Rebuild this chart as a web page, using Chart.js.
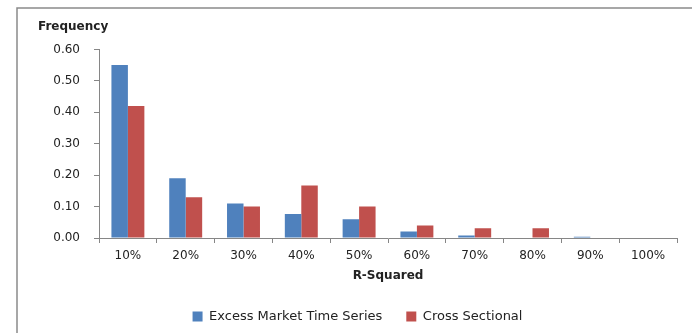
<!DOCTYPE html>
<html>
<head>
<meta charset="utf-8">
<script src="https://cdn.jsdelivr.net/npm/chart.js@4/dist/chart.umd.min.js"></script>
<style>
  html, body { margin: 0; padding: 0; background: #fff; }
  #wrap { width: 692px; height: 333px; position: relative; }
</style>
</head>
<body>
<div id="wrap"><canvas id="c" width="692" height="333"></canvas></div>
<script>
// R-squared buckets and the share of regressions falling in each
const categories = ['10%', '20%', '30%', '40%', '50%', '60%', '70%', '80%', '90%', '100%'];
const timeSeries = [0.55, 0.19, 0.11, 0.076, 0.06, 0.021, 0.008, 0.0, 0.004, 0.0];
const crossSectional = [0.42, 0.13, 0.10, 0.167, 0.10, 0.04, 0.031, 0.031, 0.0, 0.0];
const seriesNames = ['Excess Market Time Series', 'Cross Sectional'];
const yTicks = [0, 0.1, 0.2, 0.3, 0.4, 0.5, 0.6];

const FONT = 'DejaVu Sans';
const AXIS = '#868686';

// Outer chart frame (top and left edges visible)
const framePlugin = {
  id: 'frame',
  beforeDraw(chart) {
    const ctx = chart.ctx;
    ctx.save();
    ctx.fillStyle = '#ffffff';
    ctx.fillRect(0, 0, chart.width, chart.height);
    ctx.strokeStyle = '#8a8a8a';
    ctx.lineWidth = 1.5;
    ctx.beginPath();
    ctx.moveTo(17, chart.height);
    ctx.lineTo(17, 8);
    ctx.lineTo(chart.width, 8);
    ctx.stroke();
    ctx.restore();
  }
};

new Chart(document.getElementById('c'), {
  type: 'bar',
  data: {
    labels: categories,
    datasets: [
      { label: seriesNames[0], data: timeSeries, backgroundColor: '#4F81BD',
        categoryPercentage: 0.57, barPercentage: 1.0 },
      { label: seriesNames[1], data: crossSectional, backgroundColor: '#C0504D',
        categoryPercentage: 0.57, barPercentage: 1.0 }
    ]
  },
  options: {
    responsive: false,
    animation: false,
    devicePixelRatio: 1,
    layout: { padding: { left: 38, right: 15, top: 0, bottom: 0 } },
    plugins: {
      title: {
        display: true,
        text: 'Frequency',
        align: 'start',
        color: '#222',
        font: { family: FONT, size: 12, weight: 'bold' },
        padding: { top: 20, bottom: 15 }
      },
      legend: {
        position: 'bottom',
        labels: {
          color: '#222',
          font: { family: FONT, size: 13 },
          boxWidth: 10,
          boxHeight: 10,
          padding: 24
        }
      },
      tooltip: { enabled: false }
    },
    scales: {
      x: {
        grid: { display: true, drawOnChartArea: false, drawTicks: true, tickLength: 5, color: AXIS, offset: true },
        border: { display: true, color: AXIS, width: 1 },
        ticks: { color: '#222', font: { family: FONT, size: 12 }, padding: 6, maxRotation: 0 },
        title: {
          display: true, text: 'R-Squared', color: '#222',
          font: { family: FONT, size: 12, weight: 'bold' },
          padding: { top: 4, bottom: 3 }
        },
        afterFit(scale) { scale.height = 48; }
      },
      y: {
        min: 0,
        max: 0.6,
        afterBuildTicks(scale) { scale.ticks = yTicks.map(v => ({ value: v })); },
        grid: { display: true, drawOnChartArea: false, drawTicks: true, tickLength: 5, color: AXIS },
        border: { display: true, color: AXIS, width: 1 },
        ticks: {
          color: '#222', font: { family: FONT, size: 12 }, padding: 14,
          callback: v => Number(v).toFixed(2)
        },
        afterFit(scale) { scale.width = 61; }
      }
    }
  },
  plugins: [framePlugin]
});
</script>
</body>
</html>
